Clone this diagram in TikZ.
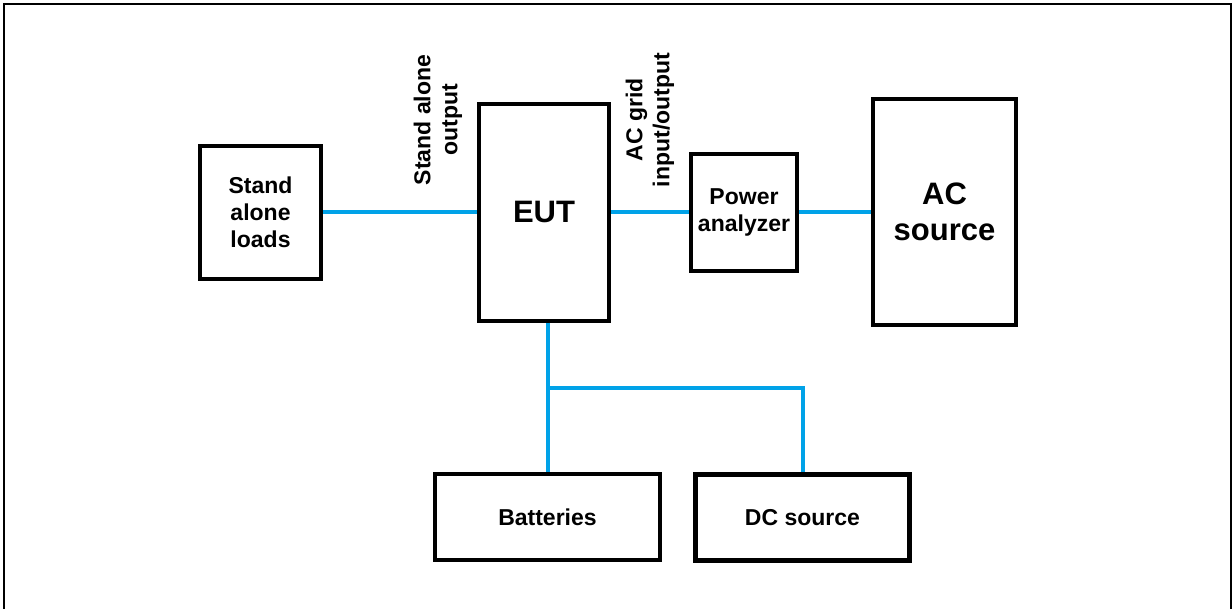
\documentclass[tikz,border=0pt]{standalone}
\usepackage{fontspec}
\setmainfont{Liberation Sans}
\usepackage{tikz}
\usetikzlibrary{positioning}
\definecolor{wireblue}{RGB}{0,162,232}

\begin{document}
\begin{tikzpicture}[
            x=1pt, y=-1pt,
            every node/.style={font=\bfseries\fontsize{23}{27}\selectfont},
            box/.style={
                rectangle,
                draw,
                line width=4pt,
                align=center,
                inner sep=0pt
            },
            big/.style={font=\bfseries\fontsize{31}{36}\selectfont},
            wire/.style={line width=4pt, draw=wireblue}
        ]

        % Frame
        \useasboundingbox (0,0) rectangle (1232,608);
        \draw[line width=2.5pt] (4,610) -- (4,4) -- (1231,4) -- (1231,610);

        % Nodes
        \node[box, minimum width=121pt, minimum height=133pt] (loads) at (260.5,212) {Stand\\alone\\loads};
        \node[box, big, minimum width=130pt, minimum height=217pt] (eut) at (544,212) {EUT};
        \node[box, minimum width=106pt, minimum height=117pt] (pa) at (744,212) {Power\\analyzer};
        \node[box, big, minimum width=143pt, minimum height=226pt] (ac) at (944.5,212) {AC\\source};
        \node[box, minimum width=225pt, minimum height=86pt] (bat) at (547.5,517) {Batteries};
        \node[box, line width=5pt, minimum width=214pt, minimum height=86pt] (dc) at (802.5,517.5) {DC source};

        % Labels
        \node[rotate=90, align=center] (sao) at (438,120) {Stand alone\\output};
        \node[rotate=90, align=center] (acio) at (650,120) {AC grid\\input/output};

        % Wires
        \draw[wire] (loads) -- (eut);
        \draw[wire] (eut) -- (pa);
        \draw[wire] (pa) -- (ac);
        \draw[wire] (eut.south -| bat.north) -- (bat.north);
        \coordinate (split) at (bat.north |- 0,388);
        \draw[wire] (split) -| (dc.north);

\end{tikzpicture}
\end{document}
